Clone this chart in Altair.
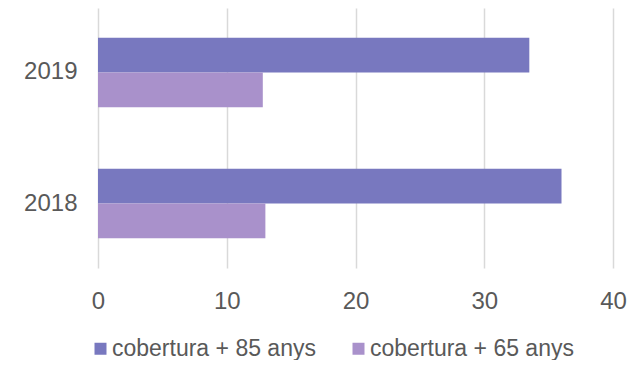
import altair as alt
import pandas as pd

years = ["2019", "2019", "2018", "2018"]
series = ["cobertura + 85 anys", "cobertura + 65 anys", "cobertura + 85 anys", "cobertura + 65 anys"]
values = [33.5, 12.8, 36.0, 13.0]

series_order = ["cobertura + 85 anys", "cobertura + 65 anys"]
year_order = ["2019", "2018"]
colors = ["#7878BF", "#A991CB"]
x_ticks = [0, 10, 20, 30, 40]

df = pd.DataFrame({"year": years, "series": series, "value": values})

FONT = "Liberation Sans"
TXT = "#595959"

chart = alt.Chart(df).mark_bar(stroke=None).encode(
    y=alt.Y("year:N", sort=year_order, title=None,
            scale=alt.Scale(paddingInner=0.47, paddingOuter=0.227),
            axis=alt.Axis(domain=False, ticks=False, grid=False, labelPadding=21,
                          labelFontSize=24, labelColor=TXT, labelFont=FONT)),
    yOffset=alt.YOffset("series:N", sort=series_order),
    x=alt.X("value:Q", title=None,
            scale=alt.Scale(domain=[0, 40], nice=False),
            axis=alt.Axis(values=x_ticks, domain=False, ticks=False, grid=True,
                          gridColor="#D9D9D9", gridWidth=1.5, labelPadding=21,
                          labelFlush=False,
                          labelFontSize=24, labelColor=TXT, labelFont=FONT)),
    color=alt.Color("series:N", sort=series_order,
                    scale=alt.Scale(domain=series_order, range=colors),
                    legend=alt.Legend(title=None, orient="none", legendX=-9, legendY=329,
                                      direction="horizontal", columns=2,
                                      symbolType="square", symbolSize=144,
                                      symbolStrokeWidth=0, labelOffset=0,
                                      columnPadding=31, labelFontSize=23,
                                      labelColor=TXT, labelFont=FONT, labelLimit=400)),
).properties(
    width=515, height=260,
    autosize=alt.AutoSizeParams(type="none"),
    padding={"left": 90, "top": 0, "right": 20, "bottom": 92},
).configure_view(stroke=None)

chart.save("out.html", embed_options={"renderer": "svg", "actions": False})
